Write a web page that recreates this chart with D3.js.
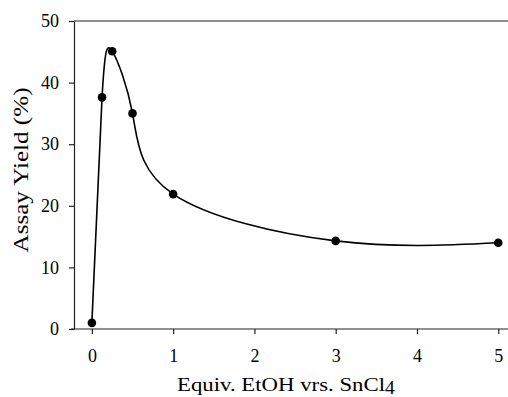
<!DOCTYPE html>
<html>
<head>
<meta charset="utf-8">
<script src="https://cdn.jsdelivr.net/npm/d3@7"></script>
<style>
  body { margin: 0; background: #fff; }
  svg { display: block; }
  text { font-family: "Liberation Serif", "DejaVu Serif", serif; fill: #000; }
</style>
</head>
<body>
<div id="chart"></div>
<script>
// data
let equivEtOH = [0, 0.125, 0.25, 0.5, 1, 3, 5];
let assayYield = [1, 37.6, 45.1, 35.0, 21.9, 14.3, 14.0];
let xTicks = [0, 1, 2, 3, 4, 5];
let yTicks = [0, 10, 20, 30, 40, 50];

var width = 508, height = 397;

var svg = d3.select("#chart")
  .append("svg")
  .attr("width", width)
  .attr("height", height);

var x = d3.scaleLinear().domain([-0.22, 5.12]).range([74, 508]);
var y = d3.scaleLinear().domain([0, 50]).range([329, 21]);

// top frame line
svg.append("line")
  .attr("x1", 74).attr("x2", 508)
  .attr("y1", y(50)).attr("y2", y(50))
  .style("stroke", "#222").style("stroke-width", 1.2);

// y axis
var yAxis = svg.append("g")
  .attr("transform", "translate(74,0)")
  .call(d3.axisLeft(y).tickValues(yTicks).tickSize(5).tickSizeOuter(0).tickPadding(10));

// x axis
var xAxis = svg.append("g")
  .attr("transform", "translate(0," + y(0) + ")")
  .call(d3.axisBottom(x).tickValues(xTicks).tickFormat(d3.format("d"))
    .tickSize(5).tickSizeOuter(0).tickPadding(15));

xAxis.select(".domain").attr("d", "M71,0H508");

[yAxis, xAxis].forEach(function(a) {
  a.select(".domain").style("stroke", "#222").style("stroke-width", 1.2);
  a.selectAll(".tick line").style("stroke", "#222").style("stroke-width", 1.2);
  a.selectAll(".tick text")
    .style("font-family", "Liberation Serif, serif")
    .style("font-size", "18px")
    .style("fill", "#000");
});

// smooth curve through points
var pts = equivEtOH.map(function(d, i) { return [d, assayYield[i]]; });

var line = d3.line()
  .x(function(d) { return x(d[0]); })
  .y(function(d) { return y(d[1]); })
  .curve(d3.curveNatural);

svg.append("path")
  .datum(pts)
  .attr("d", line)
  .style("fill", "none")
  .style("stroke", "#000")
  .style("stroke-width", 1.6);

svg.selectAll("circle.pt")
  .data(pts)
  .enter()
  .append("circle")
    .attr("class", "pt")
    .attr("cx", function(d) { return x(d[0]); })
    .attr("cy", function(d) { return y(d[1]); })
    .attr("r", 4.3)
    .style("fill", "#000");

// axis titles
svg.append("text")
  .attr("transform", "translate(28,170) rotate(-90)")
  .attr("text-anchor", "middle")
  .attr("textLength", 165)
  .attr("lengthAdjust", "spacingAndGlyphs")
  .style("font-size", "21px")
  .text("Assay Yield (%)");

var xt = svg.append("text")
  .attr("x", 177)
  .attr("y", 391)
  .style("font-size", "19.5px");
xt.append("tspan")
  .attr("textLength", 208)
  .attr("lengthAdjust", "spacingAndGlyphs")
  .text("Equiv. EtOH vrs. SnCl");
xt.append("tspan").attr("dy", 3).text("4");
</script>
</body>
</html>
